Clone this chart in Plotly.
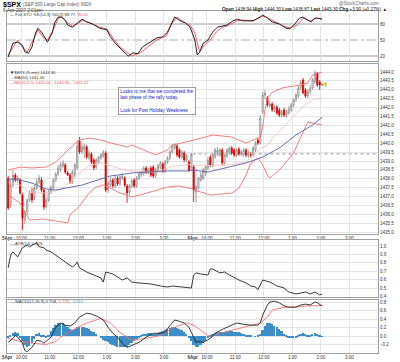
import plotly.graph_objects as go

W, H = 400, 362

# ---------------- data ----------------
session_labels = ["5Apr", "6Apr"]
bars_per_session = [78, 55]            # 5-minute bars drawn per session
full_session_bars = 78                  # 9:30 - 4:00
hour_labels = ["10:00", "11:00", "12:00", "1:00", "2:00", "3:00"]
hour_offsets_min = [30, 90, 150, 210, 270, 330]   # minutes after the 9:30 open

opens = [
    1438.04, 1436.53, 1437.65, 1438.21, 1437.93, 1437.93, 1437.09, 1435.69, 1436.13, 1436.81,
    1437.20, 1436.92, 1437.48, 1437.82, 1437.93, 1437.37, 1436.42, 1436.81, 1437.26, 1437.48,
    1437.93, 1438.27, 1438.49, 1438.72, 1438.78, 1438.33, 1438.21, 1437.82, 1438.21, 1438.61,
    1440.12, 1439.51, 1439.62, 1439.79, 1439.17, 1439.39, 1439.06, 1438.66, 1438.94, 1439.17,
    1439.28, 1439.45, 1437.37, 1437.65, 1437.93, 1437.60, 1438.04, 1437.71, 1438.04, 1438.04,
    1437.60, 1437.26, 1437.60, 1437.93, 1437.60, 1438.04, 1438.21, 1438.33, 1438.61, 1438.38,
    1438.61, 1438.66, 1438.16, 1438.49, 1438.66, 1438.83, 1438.44, 1438.94, 1439.17, 1439.51,
    1439.73, 1439.84, 1439.62, 1439.22, 1439.45, 1439.06, 1438.94, 1438.61,
    1438.66, 1437.26, 1437.48, 1437.93, 1438.04, 1438.33, 1438.61, 1439.22, 1438.78, 1439.22,
    1439.51, 1439.34, 1439.62, 1438.89, 1439.28, 1439.51, 1439.73, 1439.62, 1439.34, 1439.67,
    1439.39, 1439.34, 1439.62, 1439.28, 1439.34, 1439.34, 1439.62, 1440.18, 1440.01, 1441.75,
    1442.71, 1442.54, 1442.09, 1442.20, 1441.87, 1442.03, 1441.87, 1441.58, 1441.87, 1441.58,
    1441.70, 1441.87, 1442.15, 1442.43, 1442.65, 1443.10, 1443.55, 1442.99, 1442.65, 1442.88,
    1443.10, 1443.44, 1443.94, 1443.44, 1443.27]
highs = [
    1438.16, 1437.93, 1438.49, 1438.33, 1438.16, 1438.04, 1437.20, 1436.25, 1436.92, 1437.37,
    1437.48, 1437.65, 1438.04, 1438.21, 1438.10, 1437.48, 1436.92, 1437.37, 1437.65, 1438.04,
    1438.38, 1438.78, 1438.94, 1439.06, 1438.89, 1438.44, 1438.33, 1438.49, 1438.89, 1440.18,
    1440.35, 1440.01, 1439.96, 1439.90, 1439.62, 1439.51, 1439.17, 1439.17, 1439.28, 1439.45,
    1439.62, 1439.56, 1437.88, 1438.10, 1438.04, 1438.16, 1438.16, 1438.21, 1438.33, 1438.16,
    1437.71, 1437.71, 1437.99, 1438.04, 1438.16, 1438.38, 1438.49, 1438.72, 1438.72, 1438.61,
    1438.72, 1438.78, 1438.61, 1438.83, 1439.00, 1438.94, 1439.06, 1439.28, 1439.62, 1439.96,
    1440.01, 1439.96, 1439.73, 1439.62, 1439.56, 1439.39, 1439.06, 1439.45,
    1438.78, 1437.65, 1438.10, 1438.38, 1438.61, 1438.78, 1439.22, 1439.34, 1439.45, 1439.73,
    1439.79, 1439.73, 1439.73, 1439.34, 1439.73, 1439.84, 1439.84, 1439.73, 1439.73, 1439.79,
    1439.62, 1439.73, 1439.73, 1439.56, 1439.51, 1439.84, 1440.12, 1440.29, 1441.58, 1442.88,
    1442.99, 1442.65, 1442.37, 1442.31, 1442.15, 1442.15, 1441.98, 1441.87, 1441.98, 1441.87,
    1442.09, 1442.26, 1442.54, 1442.82, 1443.21, 1443.55, 1443.66, 1443.10, 1443.04, 1443.27,
    1443.66, 1444.10, 1444.00, 1443.55, 1443.38]
lows = [
    1436.25, 1436.36, 1437.54, 1437.82, 1437.76, 1437.09, 1435.12, 1435.46, 1435.97, 1436.70,
    1436.64, 1436.81, 1437.37, 1437.71, 1437.26, 1436.25, 1436.30, 1436.70, 1437.15, 1437.37,
    1437.82, 1438.16, 1438.38, 1438.61, 1438.27, 1438.16, 1437.71, 1437.71, 1438.10, 1438.49,
    1439.39, 1439.39, 1439.17, 1439.11, 1439.06, 1438.83, 1438.49, 1438.55, 1438.83, 1439.06,
    1439.17, 1437.26, 1437.20, 1437.54, 1437.48, 1437.48, 1437.60, 1437.60, 1437.93, 1437.54,
    1436.64, 1437.09, 1437.48, 1437.48, 1437.48, 1437.93, 1438.10, 1438.16, 1438.27, 1438.27,
    1438.10, 1438.04, 1438.04, 1438.38, 1438.55, 1438.33, 1438.33, 1438.83, 1439.06, 1439.39,
    1439.62, 1439.22, 1439.11, 1439.11, 1438.94, 1438.94, 1438.38, 1438.49,
    1436.70, 1436.64, 1437.37, 1437.82, 1437.93, 1438.16, 1438.49, 1438.66, 1438.66, 1439.11,
    1439.28, 1439.22, 1438.72, 1438.78, 1439.17, 1439.39, 1439.34, 1439.22, 1439.22, 1439.28,
    1439.28, 1439.22, 1439.22, 1439.17, 1439.17, 1439.22, 1439.51, 1439.90, 1439.90, 1441.64,
    1442.48, 1442.03, 1441.98, 1441.75, 1441.75, 1441.58, 1441.47, 1441.47, 1441.47, 1441.42,
    1441.58, 1441.75, 1442.03, 1442.31, 1442.54, 1442.99, 1442.76, 1442.54, 1442.54, 1442.76,
    1442.99, 1443.33, 1443.16, 1442.99, 1443.21]
closes = [
    1436.36, 1437.65, 1438.21, 1437.93, 1438.04, 1437.20, 1435.80, 1436.13, 1436.81, 1437.20,
    1436.81, 1437.48, 1437.82, 1438.04, 1437.37, 1436.42, 1436.81, 1437.26, 1437.48, 1437.93,
    1438.27, 1438.61, 1438.78, 1438.89, 1438.38, 1438.21, 1437.82, 1438.38, 1438.78, 1439.84,
    1439.51, 1439.79, 1439.84, 1439.22, 1439.45, 1438.94, 1438.61, 1439.06, 1439.22, 1439.34,
    1439.45, 1437.37, 1437.76, 1437.93, 1437.60, 1438.04, 1437.71, 1438.10, 1438.16, 1437.65,
    1437.20, 1437.60, 1437.88, 1437.60, 1438.04, 1438.27, 1438.38, 1438.61, 1438.38, 1438.49,
    1438.21, 1438.16, 1438.49, 1438.72, 1438.89, 1438.44, 1438.94, 1439.17, 1439.51, 1439.84,
    1439.90, 1439.34, 1439.22, 1439.51, 1439.06, 1439.28, 1438.49, 1439.40,
    1437.37, 1437.54, 1438.04, 1438.21, 1438.49, 1438.66, 1439.06, 1438.78, 1439.34, 1439.62,
    1439.62, 1439.62, 1438.89, 1439.34, 1439.62, 1439.73, 1439.45, 1439.34, 1439.62, 1439.39,
    1439.51, 1439.62, 1439.34, 1439.45, 1439.34, 1439.73, 1440.01, 1440.01, 1441.42, 1442.71,
    1442.82, 1442.15, 1442.20, 1441.87, 1442.03, 1441.70, 1441.58, 1441.75, 1441.58, 1441.75,
    1441.92, 1442.15, 1442.43, 1442.71, 1443.10, 1443.44, 1442.82, 1442.65, 1442.88, 1443.10,
    1443.55, 1443.94, 1443.27, 1443.27, 1443.30]

# MA(50) read at sample bars
ma50_bar = [0, 5, 10, 16, 20, 25, 31, 39, 43, 46, 52, 60, 67, 75, 78, 84, 93, 100, 107, 114, 121, 128, 132]
ma50 = [1437.99, 1437.93, 1437.76, 1437.43, 1437.37, 1437.48, 1437.65, 1437.99, 1438.16, 1438.21,
        1438.33, 1438.38, 1438.44, 1438.44, 1438.49, 1438.38, 1438.66, 1438.89, 1439.22, 1439.73,
        1440.46, 1441.02, 1441.46]

# Bollinger bands (20, 2.0)
bbu_bar = [0, 5, 10, 16, 20, 22, 26, 30, 34, 39, 43, 50, 52, 57, 62, 67, 69, 73, 81, 86, 94, 100,
           106, 107, 108, 109, 111, 115, 123, 126, 128, 132]
bb_upper = [1438.49, 1438.66, 1438.61, 1438.66, 1438.94, 1439.22, 1439.73, 1440.18, 1440.29, 1440.18,
            1440.01, 1439.79, 1439.90, 1439.62, 1439.34, 1439.62, 1439.90, 1440.01, 1440.29, 1440.46,
            1440.35, 1440.01, 1440.35, 1440.90, 1441.90, 1442.50, 1442.85, 1443.10, 1443.27, 1443.38,
            1443.83, 1444.00]
bbm_bar = [0, 5, 9, 16, 22, 26, 30, 34, 39, 43, 50, 57, 62, 69, 76, 81, 86, 94, 100, 106, 109, 112,
           115, 123, 128, 132]
bb_middle = [1437.79, 1437.65, 1437.20, 1437.20, 1437.40, 1437.85, 1438.30, 1438.75, 1438.90, 1438.75,
             1438.45, 1438.40, 1438.35, 1438.70, 1438.80, 1438.75, 1438.75, 1438.80, 1438.95, 1439.70,
             1439.90, 1440.40, 1440.80, 1441.95, 1442.45, 1442.55]
bbl_bar = [0, 5, 7, 9, 15, 22, 25, 26, 30, 34, 37, 40, 43, 46, 50, 52, 57, 61, 67, 72, 76, 81, 85,
           94, 97, 100, 102, 105, 107, 109, 110, 114, 120, 124, 126, 128, 132]
bb_lower = [1437.09, 1436.64, 1436.13, 1435.69, 1435.74, 1435.57, 1435.52, 1435.97, 1436.47, 1437.20,
            1437.54, 1437.65, 1437.48, 1437.26, 1437.09, 1436.98, 1437.15, 1437.31, 1437.54, 1437.60,
            1437.48, 1437.26, 1437.09, 1437.20, 1437.48, 1438.21, 1438.89, 1439.17, 1438.78, 1438.21,
            1438.04, 1438.49, 1439.45, 1440.63, 1441.19, 1441.13, 1441.02]

# Full stochastics %K(14,3) and %D(3)
stok_bar = [0, 1, 2, 4, 6, 7, 8.5, 10, 11.5, 12.5, 14, 15.5, 16.5, 18.5, 19.5, 21, 22.5, 24, 25, 27,
            29.5, 31, 33, 35.5, 38.5, 41.5, 43, 45, 47, 49, 50.5, 52.5, 54.5, 56.5, 59.5, 62.5, 65,
            67, 70, 72, 74.5, 76.5, 78.5, 79.5, 80.5, 82, 84, 86, 88, 90, 92, 94.5, 96.5, 98.5, 101,
            103, 106, 107, 109, 111, 114, 117, 118.5, 120.5, 122.5, 124, 126, 127.5, 129, 130, 132]
sto_k = [18, 31, 44, 46, 40, 28, 25, 37, 63, 72, 65, 54, 46, 63, 82, 93, 93, 87, 78, 74,
         84, 89, 84, 80, 72, 69, 56, 44, 35, 26, 20, 26, 24, 37, 46, 54, 56,
         65, 93, 87, 82, 74, 50, 22, 27, 44, 50, 65, 74, 76, 78, 86, 89, 86, 86,
         86, 93, 97, 91, 84, 80, 72, 71, 80, 91, 93, 87, 84, 91, 91, 88.77]
stod_bar = [0, 4, 6, 8, 10.5, 12.5, 14.5, 16.5, 19, 21, 22.5, 24.5, 27, 29, 31.5, 34.5, 38.5, 41.5,
            44, 47, 50, 52, 55.5, 58.5, 62.5, 66.5, 69, 71, 73.5, 76.5, 78.5, 80.5, 82.5, 85,
            87.5, 90, 92, 96, 98.5, 103, 106.5, 108.5, 111.5, 115.5, 118.5, 121.5, 124, 127,
            129.5, 132]
sto_d = [22, 50, 37, 27.5, 50, 69, 56, 50, 69, 91, 93, 84, 76, 80, 87.5, 82, 74, 71,
         54, 37, 26, 20, 26, 37, 50, 57.5, 82, 93, 84, 78, 63, 27.5, 40.6, 50,
         65, 74, 76, 85.6, 87.5, 85.6, 95, 93, 85.6, 76.3, 72.5, 78, 91, 85.6,
         91, 90.00]
sto_levels = [80, 50, 20]

# ATR(14)
atr_bar = [0, 1, 2, 4, 6, 8, 9, 10, 12, 13, 15, 16, 18, 20, 23, 25, 27, 28, 29, 30, 33, 36, 39,
           40, 41, 44, 46, 48, 50, 52, 55, 60, 64, 67, 69, 72, 77, 78, 79, 81, 84, 85, 86, 89,
           91, 93, 95, 97, 100, 102, 104, 105, 107, 110, 113, 116, 118, 121, 123, 125, 127, 129,
           131, 132]
atr = [0.74, 0.89, 0.93, 0.87, 0.98, 1.01, 0.99, 1.01, 1.04, 0.99, 0.98, 0.95, 0.93, 0.89, 0.83,
       0.80, 0.75, 0.77, 0.81, 0.74, 0.69, 0.655, 0.62, 0.57, 0.69, 0.667, 0.63, 0.595, 0.62,
       0.57, 0.56, 0.548, 0.524, 0.512, 0.524, 0.512, 0.50, 0.655, 0.68, 0.667, 0.655, 0.726,
       0.726, 0.68, 0.69, 0.655, 0.62, 0.595, 0.56, 0.524, 0.512, 0.48, 0.595, 0.571, 0.524,
       0.50, 0.452, 0.429, 0.44, 0.452, 0.429, 0.452, 0.417, 0.429]

# MACD(12,26,9)
macd_bar = [0, 2, 3, 4, 6, 7, 8, 10, 12, 14, 15, 18, 20, 22, 24, 26, 28, 30, 33, 35, 38, 40, 42,
            44, 46, 48, 50, 52, 55, 58, 61, 64, 66, 68, 70, 72, 74, 76, 78, 79, 80, 82, 85, 87,
            90, 92, 96, 99, 102, 105, 106, 107, 109, 110, 112, 114, 116, 118, 121, 123, 125, 127,
            129, 130, 132]
macd = [-0.14, -0.05, 0.02, -0.02, -0.16, -0.33, -0.36, -0.26, -0.09, -0.12, -0.16, -0.02, 0.21,
        0.31, 0.26, 0.24, 0.31, 0.45, 0.54, 0.52, 0.45, 0.38, 0.21, 0.07, -0.02, -0.16, -0.26,
        -0.21, -0.14, -0.02, 0.07, 0.07, 0.09, 0.25, 0.38, 0.35, 0.31, 0.21, -0.02, -0.14, -0.12,
        -0.14, -0.05, 0.07, 0.16, 0.21, 0.31, 0.28, 0.26, 0.26, 0.31, 0.49, 0.73, 0.80, 0.82,
        0.78, 0.71, 0.68, 0.68, 0.73, 0.75, 0.73, 0.80, 0.78, 0.708]
signal_bar = [0, 5, 10, 16, 20, 22, 27, 33, 39, 43, 47, 52, 58, 64, 69, 75, 78, 81, 85, 89, 94,
              102, 106, 109, 111, 116, 120, 126, 132]
signal = [-0.05, -0.12, -0.16, -0.19, -0.12, -0.02, 0.14, 0.31, 0.42, 0.31, 0.09, -0.09, -0.05,
          0.02, 0.19, 0.31, 0.26, 0.14, -0.02, 0.07, 0.14, 0.24, 0.31, 0.45, 0.61, 0.68, 0.68,
          0.71, 0.719]
macd_hist = [
    -0.05, 0.04, 0.08, 0.10, 0.08, -0.04, -0.12, -0.20, -0.24, -0.22,
    -0.16, -0.06, 0.06, 0.08, 0.04, 0.01, -0.04, 0.02, 0.12, 0.20,
    0.26, 0.30, 0.32, 0.31, 0.27, 0.22, 0.17, 0.14, 0.18, 0.22,
    0.22, 0.22, 0.21, 0.20, 0.17, 0.13, 0.09, 0.05, 0.00, -0.04,
    -0.08, -0.12, -0.14, -0.18, -0.20, -0.22, -0.24, -0.25, -0.26, -0.25,
    -0.24, -0.21, -0.15, -0.10, -0.06, -0.02, 0.03, 0.05, 0.06, 0.07,
    0.07, 0.06, 0.05, 0.07, 0.10, 0.13, 0.15, 0.18, 0.20, 0.21,
    0.21, 0.19, 0.17, 0.14, 0.10, 0.05, -0.04, -0.12, -0.20, -0.26,
    -0.24, -0.20, -0.15, -0.10, -0.04, 0.02, 0.05, 0.07, 0.08, 0.09,
    0.10, 0.11, 0.12, 0.12, 0.12, 0.11, 0.10, 0.09, 0.07, 0.05,
    0.04, 0.02, 0.01, 0.00, -0.01, 0.01, 0.05, 0.15, 0.24, 0.30,
    0.31, 0.29, 0.25, 0.21, 0.17, 0.12, 0.06, 0.02, -0.02, -0.04,
    -0.04, -0.03, 0.02, 0.06, 0.08, 0.06, 0.03, 0.02, 0.05, 0.07,
    0.06, 0.02, -0.012]

header_quote = [("Open", "1438.94"), ("High", "1444.30"), ("Low", "1438.87"),
                ("Last", "1443.30"), ("Chg", "+3.90 (+0.27%)")]
last_price = 1443.30
change = 3.90
note_lines = ["Looks to me that we completed the", "last phase of the rally today.", "",
              "Look for Post Holiday Weakness"]

# ---------------- derived positions ----------------
bar_x = list(range(sum(bars_per_session)))
tickvals, ticktext = [], []
for s, lab in enumerate(session_labels):
    base = s * full_session_bars - 0.5
    tickvals.append(base)
    ticktext.append("<b>" + lab + "</b>")
    for hl, off in zip(hour_labels, hour_offsets_min):
        tickvals.append(base + off / 5)
        ticktext.append(hl)
x_range = [-0.5, len(session_labels) * full_session_bars - 0.5]
day2_start = full_session_bars - 0.5
prev_close = round(last_price - change, 2)


def px(x):
    return x / W


def py(y):
    return 1 - y / H


FONT = "Liberation Sans"
GRID = "#e4e4e4"
BORDER = "#a0a0a0"
RED = "#f06060"
BLUE_HIST = "#3d8ec6"
TICKF = dict(family=FONT, size=4.5, color="#333")

fig = go.Figure()

# --- STO panel (y) ---
fig.add_trace(go.Scatter(x=stod_bar, y=sto_d, xaxis="x", yaxis="y", mode="lines",
                         line=dict(color=RED, width=1)))
fig.add_trace(go.Scatter(x=stok_bar, y=sto_k, xaxis="x", yaxis="y", mode="lines",
                         line=dict(color="#222", width=1)))

# --- Price panel (y2) ---
fig.add_trace(go.Scatter(x=bbu_bar, y=bb_upper, xaxis="x2", yaxis="y2", mode="lines",
                         line=dict(color="#f07070", width=0.9)))
fig.add_trace(go.Scatter(x=bbl_bar, y=bb_lower, xaxis="x2", yaxis="y2", mode="lines",
                         line=dict(color="#f07070", width=0.9)))
fig.add_trace(go.Scatter(x=bbm_bar, y=bb_middle, xaxis="x2", yaxis="y2", mode="lines",
                         line=dict(color="#f8c0c0", width=0.9)))
fig.add_trace(go.Scatter(x=ma50_bar, y=ma50, xaxis="x2", yaxis="y2", mode="lines",
                         line=dict(color="#5560a8", width=0.9)))
fig.add_trace(go.Candlestick(
    x=bar_x, open=opens, high=highs, low=lows, close=closes, xaxis="x2", yaxis="y2",
    increasing=dict(line=dict(color="#8c8c8c", width=0.8), fillcolor="#ffffff"),
    decreasing=dict(line=dict(color="#d40000", width=0.8), fillcolor="#e00000"),
    whiskerwidth=0, hoverinfo="skip"))
fig.add_trace(go.Scatter(x=[bar_x[-1] + 1.3], y=[last_price], xaxis="x2", yaxis="y2",
                         mode="markers",
                         marker=dict(symbol="triangle-left", size=4, color="#ffd800",
                                     line=dict(color="#b09000", width=0.4))))

# --- ATR panel (y3) ---
fig.add_trace(go.Scatter(x=atr_bar, y=atr, xaxis="x3", yaxis="y3", mode="lines",
                         line=dict(color="#222", width=0.9)))

# --- MACD panel (y4) ---
fig.add_trace(go.Bar(x=bar_x, y=macd_hist, xaxis="x4", yaxis="y4", width=0.75,
                     marker=dict(color=BLUE_HIST, line=dict(width=0))))
fig.add_trace(go.Scatter(x=signal_bar, y=signal, xaxis="x4", yaxis="y4", mode="lines",
                         line=dict(color="#f07070", width=0.9)))
fig.add_trace(go.Scatter(x=macd_bar, y=macd, xaxis="x4", yaxis="y4", mode="lines",
                         line=dict(color="#222", width=0.9)))

# ---------------- layout ----------------
xdom = [px(7), px(378)]
panels = {  # pixel top/bottom of each panel
    "": (11, 61), "2": (64, 234), "3": (240, 297), "4": (300, 353)}


def xax(show_labels, anchor):
    return dict(domain=xdom, range=x_range, anchor=anchor, tickmode="array",
                tickvals=tickvals, ticktext=ticktext, showticklabels=show_labels,
                ticks="", ticklen=0, tickfont=TICKF, showgrid=True, gridcolor=GRID, gridwidth=1,
                zeroline=False, showline=True, mirror=True, linecolor=BORDER, linewidth=1,
                rangeslider=dict(visible=False), fixedrange=True, automargin=False)


def yax(key, rng, **kw):
    top, bot = panels[key]
    d = dict(domain=[py(bot), py(top)], range=rng, side="right", anchor="x" + key,
             ticks="", ticklen=0, tickfont=TICKF, showgrid=True, gridcolor=GRID, gridwidth=1,
             zeroline=False, showline=True, mirror=True, linecolor=BORDER, linewidth=1,
             fixedrange=True, automargin=False)
    d.update(kw)
    return d


fig.update_layout(
    width=W, height=H, margin=dict(l=0, r=0, t=0, b=0, pad=0),
    paper_bgcolor="white", plot_bgcolor="white", showlegend=False,
    font=dict(family=FONT, size=5, color="#333"), bargap=0,
    xaxis=xax(False, "y"), xaxis2=xax(True, "y2"), xaxis3=xax(False, "y3"),
    xaxis4=xax(True, "y4"),
    yaxis=yax("", [10.6, 104.4], tickmode="array", tickvals=sto_levels, showgrid=False),
    yaxis2=yax("2", [1434.90, 1444.45], dtick=0.5, tick0=1435, tickformat=".1f"),
    yaxis3=yax("3", [0.393, 1.071], dtick=0.1, tick0=0.4, tickformat=".1f"),
    yaxis4=yax("4", [-0.39, 0.847], dtick=0.2, tick0=0, tickformat=".1f"),
)

# stochastic reference levels
for lvl in sto_levels:
    fig.add_shape(type="line", xref="x domain", yref="y", x0=0, x1=1, y0=lvl, y1=lvl,
                  line=dict(color="#9a9a9a" if lvl != 50 else "#aaaaaa", width=1,
                            dash="solid" if lvl != 50 else "dashdot"), layer="below")
# previous close (dotted) for today's session
fig.add_shape(type="line", xref="x2", yref="y2", x0=day2_start, x1=x_range[1],
              y0=prev_close, y1=prev_close, line=dict(color="#999", width=1, dash="dot"),
              layer="below")


def note(x, y, text, size=4.6, color="#333", xanchor="left"):
    fig.add_annotation(x=px(x), y=py(y), xref="paper", yref="paper", text=text,
                       showarrow=False, xanchor=xanchor, yanchor="middle",
                       font=dict(family=FONT, size=size, color=color))


def span(color, text):
    return "<span style='color:" + color + "'>" + text + "</span>"


# header
note(1, 4.5, "<b>$SPX</b>", size=7, color="#000")
note(21, 4.5, "(S&P 500 Large Cap Index) INDX", size=4.6, color="#555")
note(1, 11, "6-Apr-2007 2:01pm", size=4.6, color="#444")
note(381, 3.5, "@StockCharts.com", size=4.6, color="#666", xanchor="right")
quote = " ".join("<b>{}</b> {}".format(k, v) for k, v in header_quote) + " \u25b2"
note(389, 9.5, quote, size=4.6, color="#222", xanchor="right")

# panel legends
note(8, 15, span("#000", "\u2014") + " Full STO %K(14,3) %D(3) {:.2f}, ".format(sto_k[-1])
     + span(RED, "{:.2f}".format(sto_d[-1])), size=4.2)
note(8, 72.5, span("#000", "\u25bc") + "$SPX (5 min) {:.2f}".format(closes[-1]), size=4.2)
note(8, 77.5, span("#5560a8", "\u2014") + "MA(50) {:.2f}".format(ma50[-1]), size=4.2)
note(8, 82.5, "\u2014BB(20,2.0) {:.2f} - {:.2f} - {:.2f}".format(bb_upper[-1], bb_middle[-1],
                                                                bb_lower[-1]),
     size=4.2, color=RED)
note(8, 243.5, "\u2014 ATR(14) {:.3f}".format(atr[-1]), size=4.2)
note(8, 301.5, "\u2014 MACD(12,26,9) {:.3f}, ".format(macd[-1]) + span(RED, "{:.3f}".format(signal[-1]))
     + ", " + span(BLUE_HIST, "{:.3f}".format(macd_hist[-1])), size=4.2)

# annotation box
fig.add_annotation(x=px(118), y=py(86.5), xref="paper", yref="paper",
                   text="<br>".join(note_lines), showarrow=False, xanchor="left",
                   yanchor="top", align="left", bgcolor="white", bordercolor="#888",
                   borderwidth=0.8, borderpad=1.5,
                   font=dict(family=FONT, size=4.7, color="#1020c8"))

# the page's default 8px body margin would shift the 400x362 figure inside the window
fig.write_html("out.html", config={"displayModeBar": False},
               post_script="document.body.style.margin='0px';")
